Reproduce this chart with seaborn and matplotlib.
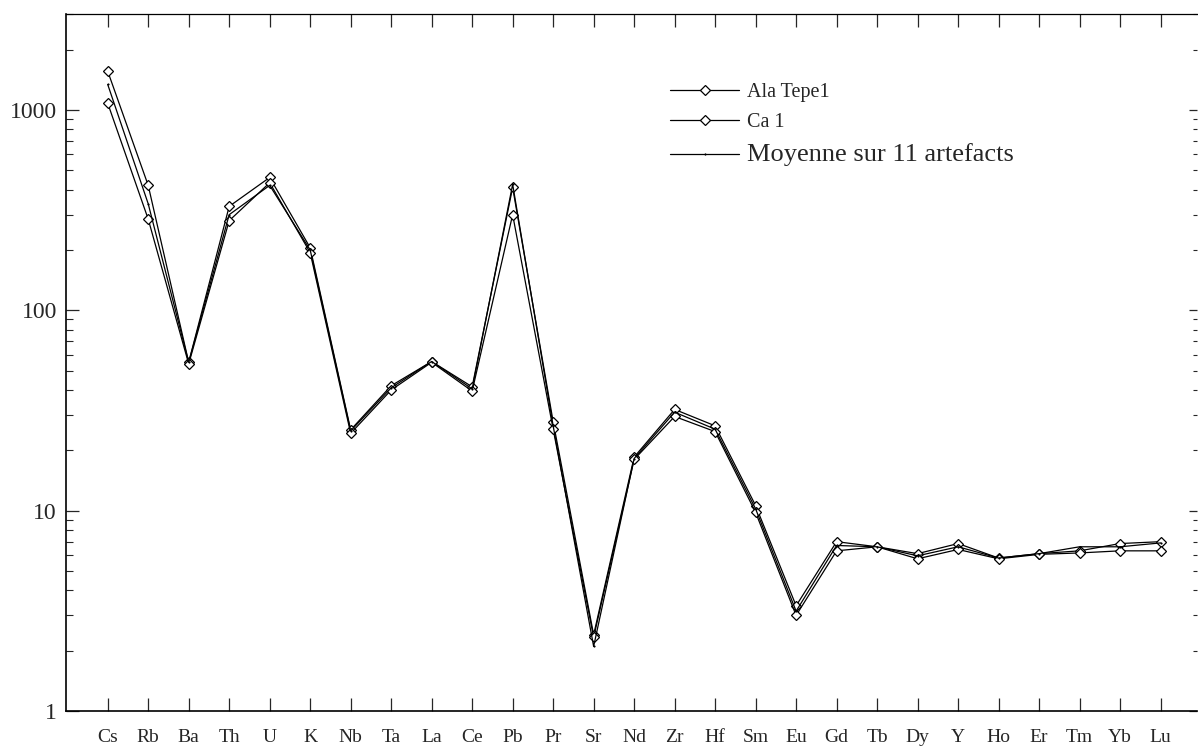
import matplotlib
matplotlib.use("Agg")
import matplotlib.pyplot as plt
import matplotlib.ticker as mticker
import seaborn as sns


# Spider diagram values
elements = ["Cs", "Rb", "Ba", "Th", "U", "K", "Nb", "Ta", "La", "Ce", "Pb", "Pr", "Sr", "Nd",
            "Zr", "Hf", "Sm", "Eu", "Gd", "Tb", "Dy", "Y", "Ho", "Er", "Tm", "Yb", "Lu"]

ala_tepe = [1560, 420, 55, 330, 460, 205, 25.3, 42, 55.5, 41.5, 410, 27.8, 2.4, 18.5,
            32, 26.5, 10.6, 3.35, 7.0, 6.6, 6.1, 6.85, 5.8, 6.1, 6.3, 6.85, 7.0]

ca_1 = [1080, 285, 54, 280, 433, 194, 24.3, 40, 55, 39.5, 300, 25.5, 2.33, 18,
        29.5, 24.8, 9.8, 3.0, 6.3, 6.6, 5.75, 6.4, 5.75, 6.05, 6.15, 6.3, 6.3]

moyenne = [1340, 340, 55, 300, 420, 200, 25, 41, 55.5, 40.5, 425, 26.5, 2.1, 18.2,
           31, 25.5, 10.2, 3.15, 6.7, 6.6, 5.95, 6.6, 5.8, 6.1, 6.6, 6.6, 6.9]

labels = ["Ala Tepe1", "Ca 1", "Moyenne sur 11 artefacts"]

sns.set_style("ticks")
plt.rcParams["font.family"] = ["Liberation Serif", "DejaVu Serif"]

W, H = 1198, 747
fig = plt.figure(figsize=(W / 100, H / 100), dpi=100)
ax = fig.add_axes([66 / W, 1 - 711 / H, (1197 - 66) / W, (711 - 14.3) / H])

sns.lineplot(x=elements, y=ala_tepe, ax=ax, sort=False, color="black", lw=0.9,
             marker="D", ms=5.5, mfc="white", mec="black", mew=0.9)
sns.lineplot(x=elements, y=ca_1, ax=ax, sort=False, color="black", lw=0.9,
             marker="D", ms=5.5, mfc="white", mec="black", mew=0.9)
sns.lineplot(x=elements, y=moyenne, ax=ax, sort=False, color="black", lw=0.9,
             marker=".", ms=2, mfc="black", mec="black", mew=0.5)

ax.set_yscale("log")
ax.set_ylim(1, 3000)
ax.set_xlim(-1.03, 26.9)
ax.set_xlabel("")
ax.set_ylabel("")

ax.yaxis.set_major_locator(mticker.FixedLocator([1, 10, 100, 1000]))
ax.yaxis.set_major_formatter(mticker.FuncFormatter(lambda v, p: f"{v:g}"))
ax.yaxis.set_minor_locator(mticker.LogLocator(base=10, subs=range(2, 10)))
ax.yaxis.set_minor_formatter(mticker.NullFormatter())

ax.tick_params(axis="y", which="major", direction="in", length=9.5, width=0.9,
               labelsize=17, pad=6.5, right=False)
ax.tick_params(axis="y", which="minor", direction="in", length=5, width=0.8, right=False)
ax.tick_params(axis="x", which="major", direction="in", length=9.5, width=0.9,
               labelsize=14, pad=13, top=True)

# right hand ticks, shorter, no labels
ax2 = ax.secondary_yaxis("right")
ax2.yaxis.set_major_locator(mticker.FixedLocator([1, 10, 100, 1000]))
ax2.yaxis.set_minor_locator(mticker.LogLocator(base=10, subs=range(2, 10)))
ax2.tick_params(which="major", direction="in", length=6, width=0.9, labelright=False)
ax2.tick_params(which="minor", direction="in", length=3, width=0.8, labelright=False)
ax2.yaxis.set_minor_formatter(mticker.NullFormatter())
for s in ax2.spines.values():
    s.set_visible(False)

ax.spines["right"].set_visible(False)
ax.spines["left"].set_linewidth(1.2)
ax.spines["bottom"].set_linewidth(1.2)
ax.spines["top"].set_linewidth(0.9)
for s in ax.spines.values():
    s.set_color("black")

leg = ax.legend(handles=ax.lines[:3], labels=labels, loc="upper left",
                bbox_to_anchor=(670 / W, 1 - 83 / H), bbox_transform=fig.transFigure,
                frameon=False, fontsize=14.5, borderpad=0, borderaxespad=0,
                handlelength=3.45, handletextpad=0.35, labelspacing=0.54)
leg.get_texts()[2].set_fontsize(19)

fig.savefig("out.png", dpi=100)
